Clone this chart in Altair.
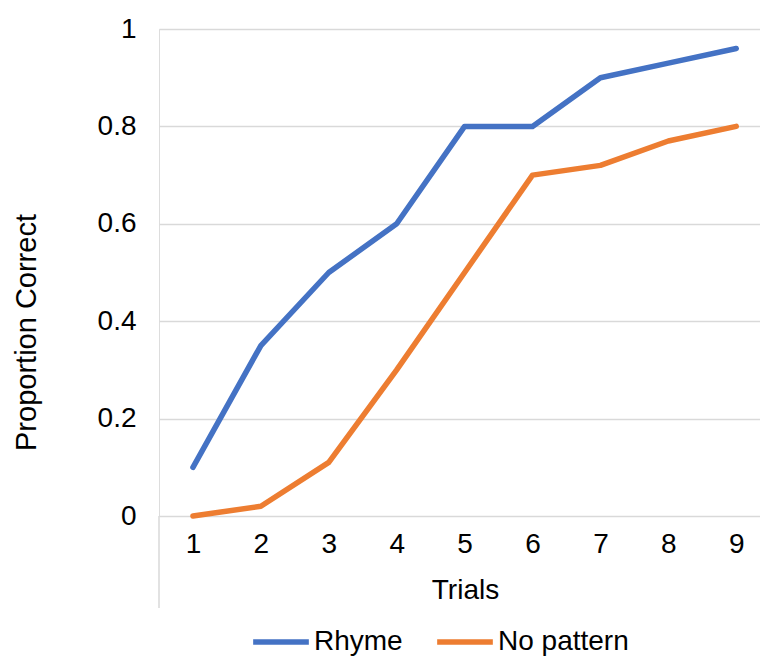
import altair as alt
import pandas as pd

trials = [1, 2, 3, 4, 5, 6, 7, 8, 9]
rhyme = [0.10, 0.35, 0.50, 0.60, 0.80, 0.80, 0.90, 0.93, 0.96]
no_pattern = [0.00, 0.02, 0.11, 0.30, 0.50, 0.70, 0.72, 0.77, 0.80]
series_names = ["Rhyme", "No pattern"]
series_colors = ["#4472C4", "#ED7D31"]

rows = []
for name, vals in zip(series_names, [rhyme, no_pattern]):
    for t, v in zip(trials, vals):
        rows.append({"Trial": t, "Value": v, "Series": name})
df = pd.DataFrame(rows)

FONT = "Liberation Sans"
FS = 28

lines = alt.Chart(df).mark_line(strokeWidth=5.5, strokeCap="round", strokeJoin="round").encode(
    x=alt.X("Trial:Q",
            scale=alt.Scale(domain=[0.5, 9.35], nice=False, zero=False),
            axis=alt.Axis(values=trials, format="d", title="Trials", grid=False,
                          domain=False, ticks=False, labelPadding=14,
                          labelFontSize=FS, labelFont=FONT, labelColor="black",
                          labelBaseline="top",
                          titleFontSize=FS, titleFont=FONT, titleFontWeight="normal",
                          titleColor="black", titleX=306, titleY=74,
                          titleBaseline="middle")),
    y=alt.Y("Value:Q",
            scale=alt.Scale(domain=[0, 1], nice=False),
            axis=alt.Axis(values=[0, 0.2, 0.4, 0.6, 0.8, 1.0], title="Proportion Correct",
                          labelExpr="datum.value == 0 ? '0' : datum.value == 1 ? '1' : format(datum.value, '.1f')",
                          domain=False, ticks=False, labelPadding=23,
                          labelFontSize=FS, labelFont=FONT, labelColor="black",
                          gridColor="#d9d9d9", gridWidth=1.5,
                          titleFontSize=29, titleFont=FONT, titleFontWeight="normal",
                          titleColor="black", titleAngle=270, titleX=-133, titleY=303,
                          titleAlign="center", titleBaseline="middle")),
    color=alt.Color("Series:N",
                    scale=alt.Scale(domain=series_names, range=series_colors),
                    sort=series_names,
                    legend=alt.Legend(title=None, orient="none", direction="horizontal",
                                      legendX=91, legendY=582,
                                      symbolType="stroke", symbolSize=3100,
                                      symbolStrokeWidth=5.5, labelOffset=2,
                                      columnPadding=23,
                                      labelFontSize=FS, labelFont=FONT, labelColor="black")),
)

vline = alt.Chart(pd.DataFrame({"a": [0]})).mark_rule(color="#d9d9d9", strokeWidth=1.5).encode(
    x=alt.value(0), y=alt.value(487), y2=alt.value(579)
)

chart = alt.layer(vline, lines).properties(
    width=601, height=487,
    padding={"left": 159, "top": 29, "right": 0, "bottom": 140},
    autosize=alt.AutoSizeParams(type="none"),
).configure_view(stroke=None).configure(font=FONT)

chart.save("out.html", embed_options={"renderer": "svg", "actions": False})
